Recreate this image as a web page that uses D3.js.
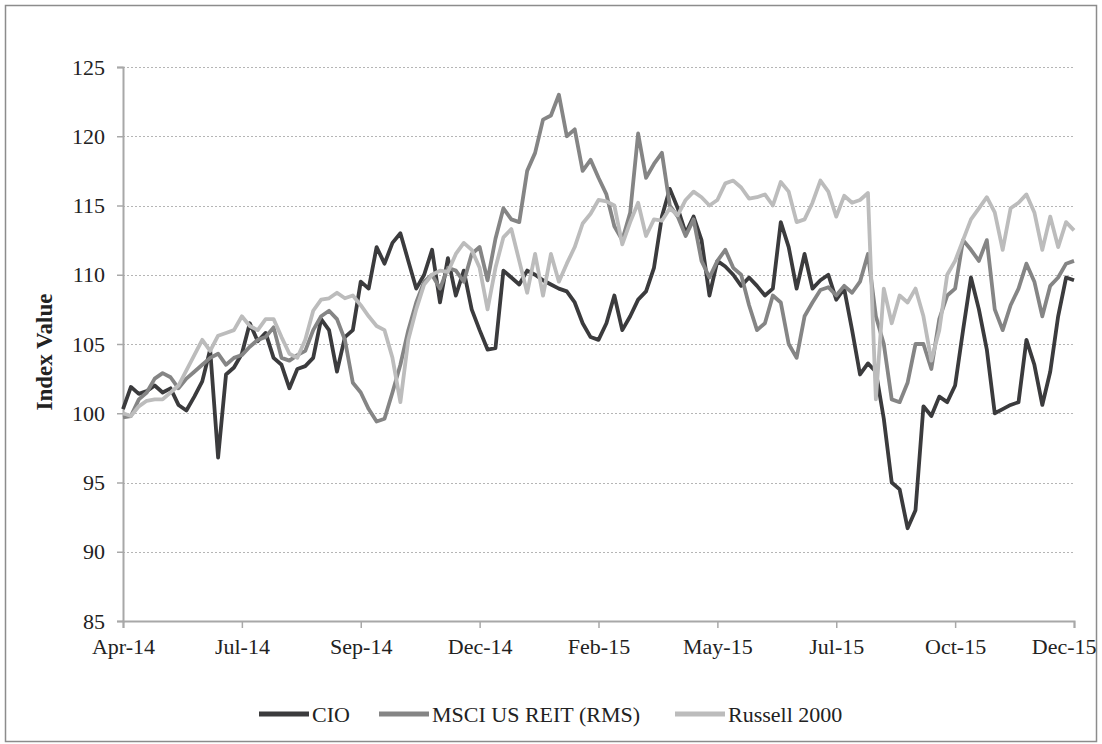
<!DOCTYPE html>
<html>
<head>
<meta charset="utf-8">
<script src="https://cdn.jsdelivr.net/npm/d3@7"></script>
<style>
  html, body { margin: 0; padding: 0; background: #fff; }
  svg { display: block; }
  text { font-family: "Liberation Serif", "Times New Roman", serif; fill: #222; }
</style>
</head>
<body>
<div id="chart"></div>
<script>
// samples are evenly spaced along a category axis, 15 samples per label
const tickLabels = ["Apr-14", "Jul-14", "Sep-14", "Dec-14", "Feb-15", "May-15", "Jul-15", "Oct-15", "Dec-15"];
const yTicks = [85, 90, 95, 100, 105, 110, 115, 120, 125];
const seriesNames = ["CIO", "MSCI US REIT (RMS)", "Russell 2000"];

const cio = [
  100.3, 101.9, 101.4, 101.6, 102.0, 101.5, 101.8, 100.6, 100.2, 101.2,
  102.3, 104.6, 96.8, 102.8, 103.3, 104.3, 106.5, 105.2, 105.8, 104.0,
  103.5, 101.8, 103.2, 103.4, 104.0, 106.8, 106.0, 103.0, 105.5, 106.0,
  109.5, 109.0, 112.0, 110.8, 112.3, 113.0, 111.0, 109.0, 110.0, 111.8,
  108.0, 111.2, 108.5, 110.3, 107.5, 106.0, 104.6, 104.7, 110.3, 109.8,
  109.3, 110.3, 110.0, 109.6, 109.3, 109.0, 108.8, 108.0, 106.5, 105.5,
  105.3, 106.5, 108.5, 106.0, 107.0, 108.2, 108.8, 110.5, 114.2, 116.2,
  114.8, 113.0, 114.2, 112.5, 108.5, 111.0, 110.6, 110.0, 109.2, 109.8,
  109.2, 108.5, 109.0, 113.8, 112.0, 109.0, 111.5, 109.0, 109.6, 110.0,
  108.2, 109.0, 106.0, 102.8, 103.6, 103.0, 99.6, 95.0, 94.5, 91.7,
  93.0, 100.5, 99.8, 101.2, 100.8, 102.0, 106.0, 109.8, 107.5, 104.6,
  100.0, 100.3, 100.6, 100.8, 105.3, 103.5, 100.6, 103.0, 107.0, 109.8,
  109.6
];

const msci = [
  99.7, 99.8, 101.0, 101.5, 102.5, 102.9, 102.6, 101.8, 102.5, 103.0,
  103.5, 104.0, 104.3, 103.5, 104.0, 104.2, 104.8, 105.3, 105.5, 106.2,
  104.0, 103.8, 104.2, 104.5, 106.0, 107.0, 107.4, 106.8, 105.3, 102.2,
  101.5, 100.3, 99.4, 99.6, 101.5, 103.5, 106.0, 108.0, 109.5, 110.0,
  109.0, 110.5, 110.3, 109.5, 111.5, 112.0, 109.6, 112.6, 114.8, 114.0,
  113.8, 117.5, 118.8, 121.2, 121.5, 123.0, 120.0, 120.5, 117.5, 118.3,
  117.0, 115.8, 113.5, 112.5, 114.5, 120.2, 117.0, 118.0, 118.8, 115.0,
  114.2, 112.8, 114.0, 111.0, 109.8, 111.0, 111.8, 110.5, 110.0, 107.8,
  106.0, 106.5, 108.5, 108.0, 105.0, 104.0, 107.0, 108.0, 108.9, 109.1,
  108.5, 109.2, 108.7, 109.5, 111.5, 107.0, 105.0, 101.0, 100.8, 102.2,
  105.0, 105.0, 103.2, 106.8, 108.5, 109.0, 112.5, 111.8, 111.0, 112.5,
  107.5, 106.0, 107.8, 109.0, 110.8, 109.5, 107.0, 109.2, 109.8, 110.8,
  111.0
];

const russell = [
  100.0, 99.8, 100.5, 100.9, 101.0, 101.0, 101.5, 102.0, 103.1, 104.2,
  105.3, 104.5, 105.6, 105.8, 106.0, 107.0, 106.3, 106.0, 106.8, 106.8,
  105.5, 104.3, 104.0, 105.3, 107.4, 108.2, 108.3, 108.7, 108.3, 108.5,
  107.8, 107.0, 106.3, 106.0, 104.0, 100.8, 105.3, 107.5, 109.3, 110.0,
  110.3, 110.2, 111.5, 112.3, 111.8, 110.5, 107.5, 110.5, 112.7, 113.3,
  111.0, 108.7, 111.5, 108.5, 111.5, 109.5, 110.8, 112.0, 113.7, 114.4,
  115.4, 115.3, 115.0, 112.2, 113.8, 115.2, 112.8, 114.0, 113.9, 114.8,
  114.3, 115.4, 116.0, 115.6, 115.0, 115.4, 116.6, 116.8, 116.3, 115.5,
  115.6, 115.8, 115.0, 116.7, 116.0, 113.8, 114.0, 115.2, 116.8, 116.0,
  114.2, 115.7, 115.2, 115.4, 115.9, 101.0, 109.0, 106.5, 108.5, 108.0,
  109.0, 107.0, 103.8, 106.0, 110.0, 111.0, 112.5, 114.0, 114.8, 115.6,
  114.5, 111.8, 114.8, 115.2, 115.8, 114.5, 111.8, 114.2, 112.0, 113.8,
  113.2
];

const seriesValues = [cio, msci, russell];
const seriesColors = ["#3b3b3d", "#858585", "#bcbcbc"];
const perLabel = 15;

const width = 1102, height = 744;
const margin = { top: 67, right: 28, bottom: 123, left: 123 };

const svg = d3.select("#chart").append("svg")
  .attr("width", width)
  .attr("height", height);

svg.append("rect")
  .attr("x", 5.5).attr("y", 5.5)
  .attr("width", width - 11).attr("height", height - 8)
  .attr("fill", "#fff")
  .attr("stroke", "#8c8c8c")
  .attr("stroke-width", 1.5);

const x = d3.scaleLinear()
  .domain([0, cio.length - 1])
  .range([margin.left, width - margin.right]);

const y = d3.scaleLinear()
  .domain([85, 125])
  .range([height - margin.bottom, margin.top]);

// dotted gridlines
svg.append("g")
  .selectAll("line")
  .data(yTicks.slice(1))
  .join("line")
    .attr("x1", margin.left)
    .attr("x2", width - margin.right)
    .attr("y1", d => Math.round(y(d)) + 0.5)
    .attr("y2", d => Math.round(y(d)) + 0.5)
    .attr("stroke", "#b5b5b5")
    .attr("stroke-width", 1)
    .attr("stroke-dasharray", "2,2");

// y axis
svg.append("g")
  .attr("transform", `translate(${margin.left},0)`)
  .call(d3.axisLeft(y).tickValues(yTicks).tickSize(6).tickPadding(12).tickFormat(d3.format("d")))
  .call(g => g.select(".domain").attr("stroke", "#a8a8a8").attr("stroke-width", 2))
  .call(g => g.selectAll(".tick line").attr("stroke", "#a8a8a8").attr("stroke-width", 1.5))
  .call(g => g.selectAll(".tick text")
    .attr("font-family", "Liberation Serif, serif")
    .attr("font-size", 22)
    .attr("fill", "#222"));

// x axis
const xTickValues = tickLabels.map((_, i) => i * perLabel);
svg.append("g")
  .attr("transform", `translate(0,${height - margin.bottom})`)
  .call(d3.axisBottom(x).tickValues(xTickValues).tickSize(7).tickPadding(10)
    .tickFormat((d, i) => tickLabels[i]))
  .call(g => g.select(".domain").attr("stroke", "#a8a8a8").attr("stroke-width", 2))
  .call(g => g.selectAll(".tick line").attr("stroke", "#a8a8a8").attr("stroke-width", 1.5))
  .call(g => g.selectAll(".tick text")
    .attr("font-family", "Liberation Serif, serif")
    .attr("font-size", 22)
    .attr("fill", "#222"))
  // the last label is pushed left to stay inside the frame
  .call(g => g.selectAll(".tick:last-of-type text")
    .attr("text-anchor", "end")
    .attr("x", width - 6 - x(xTickValues[xTickValues.length - 1])));

// y title
svg.append("text")
  .attr("transform", `translate(52,${(margin.top + height - margin.bottom) / 2 + 8}) rotate(-90)`)
  .attr("text-anchor", "middle")
  .attr("font-size", 23)
  .attr("font-weight", "bold")
  .text("Index Value");

// lines
const line = d3.line()
  .x((d, i) => x(i))
  .y(d => y(d));

svg.append("g")
  .selectAll("path")
  .data(seriesValues)
  .join("path")
    .attr("fill", "none")
    .attr("stroke", (d, i) => seriesColors[i])
    .attr("stroke-width", 3.8)
    .attr("stroke-linejoin", "round")
    .attr("d", line);

// legend
const legendX = [259, 379, 675];
const legendY = 714;
const legend = svg.append("g")
  .selectAll("g")
  .data(seriesNames)
  .join("g")
    .attr("transform", (d, i) => `translate(${legendX[i]},${legendY})`);
legend.append("line")
  .attr("x1", 0).attr("x2", 50)
  .attr("stroke", (d, i) => seriesColors[i])
  .attr("stroke-width", 5);
legend.append("text")
  .attr("x", 53)
  .attr("dy", "0.35em")
  .attr("font-size", 22)
  .text(d => d);
</script>
</body>
</html>
